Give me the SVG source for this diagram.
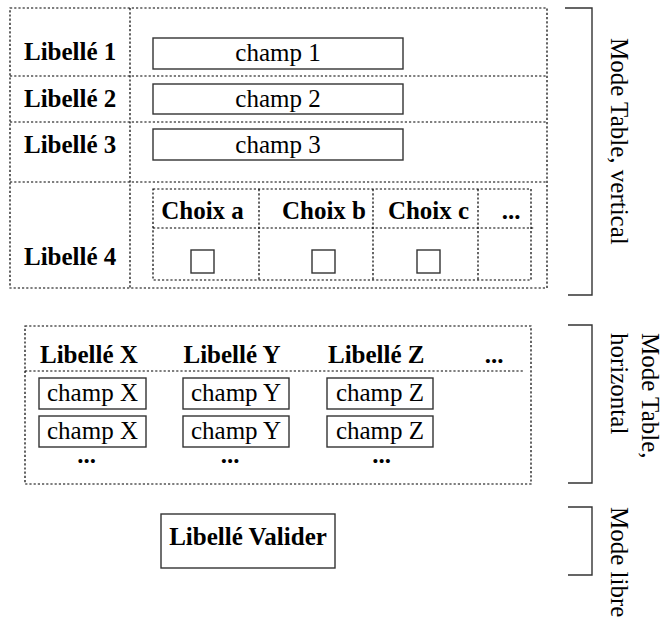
<svg xmlns="http://www.w3.org/2000/svg" width="664" height="618" viewBox="0 0 664 618">
<style>
text{font-family:"Liberation Serif","Times New Roman",serif;font-size:25px;fill:#000}
.b{font-weight:bold}
.m{text-anchor:middle}
.dot{fill:none;stroke:#000;stroke-width:1.2;stroke-dasharray:2.2,2}
.box{fill:#fff;stroke:#333;stroke-width:1.4}
.br{fill:none;stroke:#333;stroke-width:1.4}
</style>
<rect width="664" height="618" fill="#fff"/>
<g id="table-vertical">
<rect class="dot" x="10" y="8" width="537" height="280"/>
<line class="dot" x1="130" y1="8" x2="130" y2="288"/>
<line class="dot" x1="10" y1="76" x2="547" y2="76"/>
<line class="dot" x1="10" y1="122" x2="547" y2="122"/>
<line class="dot" x1="10" y1="182" x2="547" y2="182"/>
</g>
<g id="row1">
<text class="b" x="24" y="60">Libellé 1</text>
<rect class="box" x="153" y="38" width="250" height="31"/>
<text class="m" x="278" y="61">champ 1</text>
</g>
<g id="row2">
<text class="b" x="24" y="107">Libellé 2</text>
<rect class="box" x="153" y="84" width="250" height="30"/>
<text class="m" x="278" y="107">champ 2</text>
</g>
<g id="row3">
<text class="b" x="24" y="153">Libellé 3</text>
<rect class="box" x="153" y="129" width="250" height="31"/>
<text class="m" x="278" y="153">champ 3</text>
</g>
<g id="row4">
<text class="b" x="24" y="265">Libellé 4</text>
<rect class="dot" x="153" y="189" width="378" height="91"/>
<line class="dot" x1="153" y1="228" x2="535" y2="228"/>
<line class="dot" x1="259" y1="189" x2="259" y2="280"/>
<line class="dot" x1="373" y1="189" x2="373" y2="280"/>
<line class="dot" x1="478" y1="189" x2="478" y2="280"/>
<text class="b m" x="202.5" y="219">Choix a</text>
<text class="b m" x="324" y="219">Choix b</text>
<text class="b m" x="428.5" y="219">Choix c</text>
<text class="b m" x="511" y="219">...</text>
<rect class="box" x="191" y="250" width="23" height="23"/>
<rect class="box" x="312" y="250" width="23" height="23"/>
<rect class="box" x="417" y="250" width="23" height="23"/>
</g>
<g id="table-horizontal">
<rect class="dot" x="25" y="326" width="506" height="158"/>
<line class="dot" x1="25" y1="371" x2="524" y2="371"/>
<text class="b" x="40" y="363">Libellé X</text>
<text class="b" x="183.5" y="363">Libellé Y</text>
<text class="b" x="328" y="363">Libellé Z</text>
<text class="b m" x="494" y="363">...</text>
<rect class="box" x="39" y="378" width="107" height="31"/>
<rect class="box" x="183" y="378" width="106" height="31"/>
<rect class="box" x="327" y="378" width="106" height="31"/>
<rect class="box" x="39" y="416" width="107" height="31"/>
<rect class="box" x="183" y="416" width="106" height="31"/>
<rect class="box" x="327" y="416" width="106" height="31"/>
<text class="m" x="92.5" y="401">champ X</text>
<text class="m" x="236" y="401">champ Y</text>
<text class="m" x="380" y="401">champ Z</text>
<text class="m" x="92.5" y="439">champ X</text>
<text class="m" x="236" y="439">champ Y</text>
<text class="m" x="380" y="439">champ Z</text>
<text class="b m" x="86.5" y="463">...</text>
<text class="b m" x="230" y="463">...</text>
<text class="b m" x="381.5" y="463">...</text>
</g>
<g id="valider">
<rect class="box" x="161" y="514" width="174" height="54"/>
<text class="b m" x="248" y="545">Libellé Valider</text>
</g>
<g id="brackets">
<path class="br" d="M565 8H592V295H568"/>
<path class="br" d="M568 325H592V483H568"/>
<path class="br" d="M568 507H592V575H568"/>
</g>
<g id="mode-labels">
<text transform="translate(611,38) rotate(90)">Mode Table, vertical</text>
<text transform="translate(642,333) rotate(90)">Mode Table,</text>
<text transform="translate(611,333) rotate(90)">horizontal</text>
<text transform="translate(611,507) rotate(90)">Mode libre</text>
</g>
</svg>
